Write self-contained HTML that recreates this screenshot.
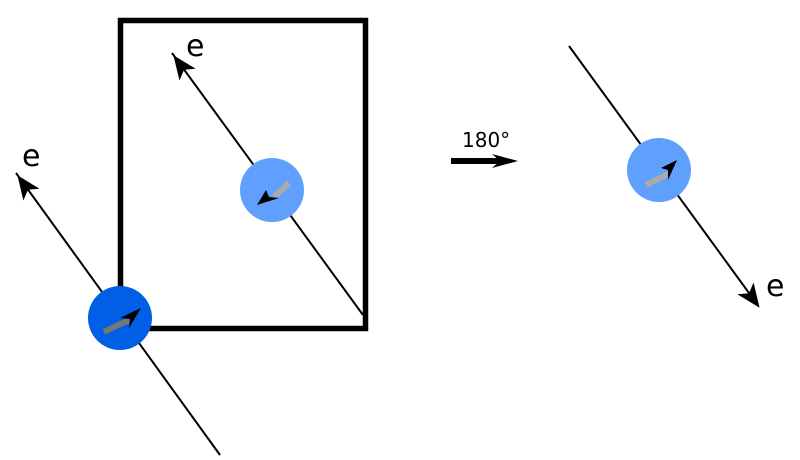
<!DOCTYPE html>
<html><head><style>html,body{margin:0;padding:0;background:#fff}svg{display:block}</style></head><body>
<svg width="800" height="460" viewBox="0 0 800 460" xmlns="http://www.w3.org/2000/svg">
<defs>
<marker id="ah" viewBox="0 0 24 20" refX="23" refY="10" markerWidth="24" markerHeight="20" markerUnits="userSpaceOnUse" orient="auto">
<path d="M0,0 L24,10 L0,20 L6,10 Z" fill="#000"/>
</marker>
</defs>
<rect x="120.5" y="20.5" width="245" height="308" fill="none" stroke="#000" stroke-width="5.5"/>
<line x1="220" y1="455" x2="16" y2="173" stroke="#000" stroke-width="2"/>
<line x1="220" y1="455" x2="18" y2="176" stroke="none" marker-end="url(#ah)"/>
<line x1="363" y1="315" x2="172" y2="53" stroke="#000" stroke-width="2"/>
<line x1="363" y1="315" x2="174" y2="56" stroke="none" marker-end="url(#ah)"/>
<line x1="569" y1="46" x2="757" y2="304" stroke="#000" stroke-width="2"/>
<line x1="569" y1="46" x2="759" y2="307" stroke="none" marker-end="url(#ah)"/>
<circle cx="120" cy="318" r="32" fill="#005fe6"/>
<circle cx="272" cy="190" r="32" fill="#5fa0ff"/>
<circle cx="659" cy="170" r="32" fill="#5fa0ff"/>
<path d="M104,332 Q115,326 130,320" fill="none" stroke="#777" stroke-width="6"/>
<path d="M141,308 L120,318 L130,319 L129,328 Z" fill="#000"/>
<path d="M289,183 L274,197" fill="none" stroke="#aaa" stroke-width="6"/>
<path d="M257,205 L266,190 L269,197 L279,198 Z" fill="#000"/>
<path d="M646,185 L668,174" fill="none" stroke="#aaa" stroke-width="6"/>
<path d="M677,160 L661,168 L668,170 L668,180 Z" fill="#000"/>
<line x1="451" y1="161" x2="504" y2="161" stroke="#000" stroke-width="6"/>
<path d="M518,161 L492,154 L500,161 L492,168 Z" fill="#000"/>
<g font-family="'DejaVu Sans','Liberation Sans',sans-serif" fill="#000">
<text x="462" y="147" font-size="20">180°</text>
<text x="186" y="56" font-size="30">e</text>
<text x="22" y="166" font-size="30">e</text>
<text x="766" y="296" font-size="30">e</text>
</g>
</svg>
</body></html>
